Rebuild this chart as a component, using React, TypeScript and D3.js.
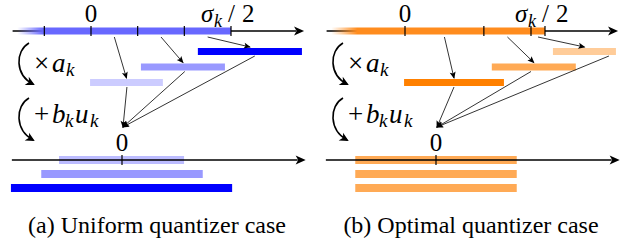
import * as d3 from 'd3';

// quantizer grid on the top axis (units of the top axis, 0 = origin)
const uniformTicks = [-1, 0, 1, 2];
const optimalTicks = [0, 1.69, 2.7];
const sigmaHalf = 3;
const axisStart = -1.68;
const axisEnd = 4.48;
const gradStart = -1.58;

// cells whose midpoints are mapped (×a_k)
const uniformCells = [[0, 1], [1, 2], [2, 3]];
const optimalCells = [[0, 1.69], [1.69, 2.7], [2.7, 3]];

// scaled cells (after ×a_k)
const uniformScaled = [[-0.02, 1.54], [1.07, 2.87], [2.29, 4.52]];
const optimalScaled = [[-0.02, 2.12], [1.86, 3.66], [3.17, 4.52]];

// where the (+b_k u_k) arrows leave each scaled cell
const uniformSources = [0.77, 2.01, 3.51];
const optimalSources = [1.05, 2.7, 4.37];

// shifted cells on the bottom axis
const uniformShifted = [[-1.35, 1.33], [-1.73, 1.73], [-2.38, 2.36]];
const optimalShifted = [[-1.73, 1.73], [-1.73, 1.73], [-1.73, 1.73]];
const bottomStart = -2.36;
const bottomEnd = 3.85;

const captions = ['(a) Uniform quantizer case', '(b) Optimal quantizer case'];

const blue = { axis: '#6868ff', cells: ['#ccccff', '#9999ff', '#0000ff'], shifted: ['#bcbcff', '#9999ff', '#0000ff'] };
const orange = { axis: '#ff8c1e', cells: ['#ff8000', '#ffaa55', '#ffcc99'], shifted: ['#ffaa55', '#ffaa55', '#ffaa55'] };

const serif = { fontFamily: "'Liberation Serif'" };

type PanelProps = {
  id: string;
  dx: number;
  ticks: number[];
  cells: number[][];
  scaled: number[][];
  sources: number[];
  shifted: number[][];
  colors: typeof blue;
  caption: string;
};

function Panel({ id, dx, ticks, cells, scaled, sources, shifted, colors, caption }: PanelProps) {
  const x = d3.scaleLinear().domain([0, sigmaHalf]).range([91, 231]);
  const xb = d3.scaleLinear().domain([0, sigmaHalf]).range([122, 262]);
  const topY = 31;
  const rowY = [82.5, 67, 51.5]; // row center per cell index
  const barH = 7;
  const botY = 160;
  const botRows = [160, 174, 188];
  const gx0 = x(gradStart);
  const gx1 = x(sigmaHalf);
  const target = { x: xb(0) + 1, y: 127 };

  return (
    <g transform={`translate(${dx},0)`}>
      <defs>
        <linearGradient id={`grad-${id}`} x1="0" x2="1" y1="0" y2="0">
          <stop offset="0" stopColor={colors.axis} stopOpacity={0} />
          <stop offset={(26 / (gx1 - gx0)).toFixed(3)} stopColor={colors.axis} stopOpacity={1} />
          <stop offset="1" stopColor={colors.axis} stopOpacity={1} />
        </linearGradient>
      </defs>

      {/* top axis */}
      <line x1={x(axisStart)} x2={x(axisEnd) - 4} y1={topY} y2={topY} stroke="#000" strokeWidth={1.3} markerEnd="url(#bigHead)" />
      <rect x={gx0} y={topY - 3.5} width={gx1 - gx0} height={barH} fill={`url(#grad-${id})`} />
      {ticks.map((t, i) => (
        <line key={i} x1={x(t)} x2={x(t)} y1={topY - 5} y2={topY + 5} stroke="#000" strokeWidth={1.2} />
      ))}
      <line x1={x(sigmaHalf)} x2={x(sigmaHalf)} y1={topY - 5} y2={topY + 5} stroke="#000" strokeWidth={1.2} />
      <text x={x(0)} y={22} textAnchor="middle" fontSize={25} style={serif}>0</text>
      <text y={22} fontSize={25} style={serif}>
        <tspan x={x(sigmaHalf) - 30} fontStyle="italic">σ</tspan>
        <tspan x={x(sigmaHalf) - 17} dy={5} fontStyle="italic" fontSize={18}>k</tspan>
        <tspan x={x(sigmaHalf) - 3} dy={-5}>/</tspan>
        <tspan x={x(sigmaHalf) + 11}>2</tspan>
      </text>

      {/* scaled cells */}
      {scaled.map(([lo, hi], i) => (
        <rect key={i} x={x(lo)} y={rowY[i] - barH / 2} width={x(hi) - x(lo)} height={barH} fill={colors.cells[i]} />
      ))}
      {cells.map(([lo, hi], i) => {
        const c = (scaled[i][0] + scaled[i][1]) / 2;
        return (
          <line key={i} x1={x((lo + hi) / 2)} y1={37} x2={x(c)} y2={rowY[i] - barH / 2 - 1}
            stroke="#000" strokeWidth={0.8} markerEnd="url(#smallHead)" />
        );
      })}
      {sources.map((s, i) => (
        <line key={i} x1={x(s)} y1={rowY[i] + barH / 2 + 1} x2={target.x} y2={target.y}
          stroke="#000" strokeWidth={0.8} markerEnd="url(#smallHead)" />
      ))}

      {/* operation labels */}
      <path d="M29,43 C15,51 15,75 33,84" fill="none" stroke="#000" strokeWidth={1.6} markerEnd="url(#midHead)" />
      <text y={72} fontSize={27} style={serif}>
        <tspan x={34}>×</tspan>
        <tspan x={52} fontStyle="italic">a</tspan>
        <tspan x={66} dy={4} fontStyle="italic" fontSize={19}>k</tspan>
      </text>
      <path d="M29,98 C15,106 15,130 33,140" fill="none" stroke="#000" strokeWidth={1.6} markerEnd="url(#midHead)" />
      <text y={123} fontSize={27} style={serif}>
        <tspan x={34}>+</tspan>
        <tspan x={52} fontStyle="italic">b</tspan>
        <tspan x={65} dy={4} fontStyle="italic" fontSize={19}>k</tspan>
        <tspan x={75} dy={-4} fontStyle="italic">u</tspan>
        <tspan x={90} dy={4} fontStyle="italic" fontSize={19}>k</tspan>
      </text>

      {/* bottom axis */}
      {shifted.map(([lo, hi], i) => (
        <rect key={i} x={xb(lo)} y={botRows[i] - 4} width={xb(hi) - xb(lo)} height={8} fill={colors.shifted[i]} />
      ))}
      <line x1={xb(bottomStart)} x2={xb(bottomEnd) - 4} y1={botY} y2={botY} stroke="#000" strokeWidth={1.3} markerEnd="url(#bigHead)" />
      <line x1={xb(0)} x2={xb(0)} y1={botY - 5} y2={botY + 5} stroke="#000" strokeWidth={1.2} />
      <text x={xb(0)} y={151} textAnchor="middle" fontSize={25} style={serif}>0</text>

      <text x={157} y={233} textAnchor="middle" fontSize={24} style={serif}>
        {caption}
      </text>
    </g>
  );
}

export default function App() {
  return (
    <svg width={628} height={248} style={{ position: 'absolute', left: 0, top: 0, background: '#fff' }}>
      <defs>
        <marker id="bigHead" markerUnits="userSpaceOnUse" viewBox="-1 -5 12 10" refX={2} refY={0} markerWidth={12} markerHeight={10} orient="auto">
          <path d="M0,-4.5 L10,0 L0,4.5 L2.5,0 Z" fill="#000" />
        </marker>
        <marker id="midHead" markerUnits="userSpaceOnUse" viewBox="-1 -5 12 10" refX={7} refY={0} markerWidth={12} markerHeight={10} orient="auto">
          <path d="M0,-4.5 L9,0 L0,4.5 L2.5,0 Z" fill="#000" />
        </marker>
        <marker id="smallHead" markerUnits="userSpaceOnUse" viewBox="-1 -4 9 8" refX={6} refY={0} markerWidth={9} markerHeight={8} orient="auto">
          <path d="M0,-3 L7,0 L0,3 L1.5,0 Z" fill="#000" />
        </marker>
      </defs>
      <Panel id="u" dx={0} ticks={uniformTicks} cells={uniformCells} scaled={uniformScaled} sources={uniformSources}
        shifted={uniformShifted} colors={blue} caption={captions[0]} />
      <Panel id="o" dx={314} ticks={optimalTicks} cells={optimalCells} scaled={optimalScaled} sources={optimalSources}
        shifted={optimalShifted} colors={orange} caption={captions[1]} />
    </svg>
  );
}
